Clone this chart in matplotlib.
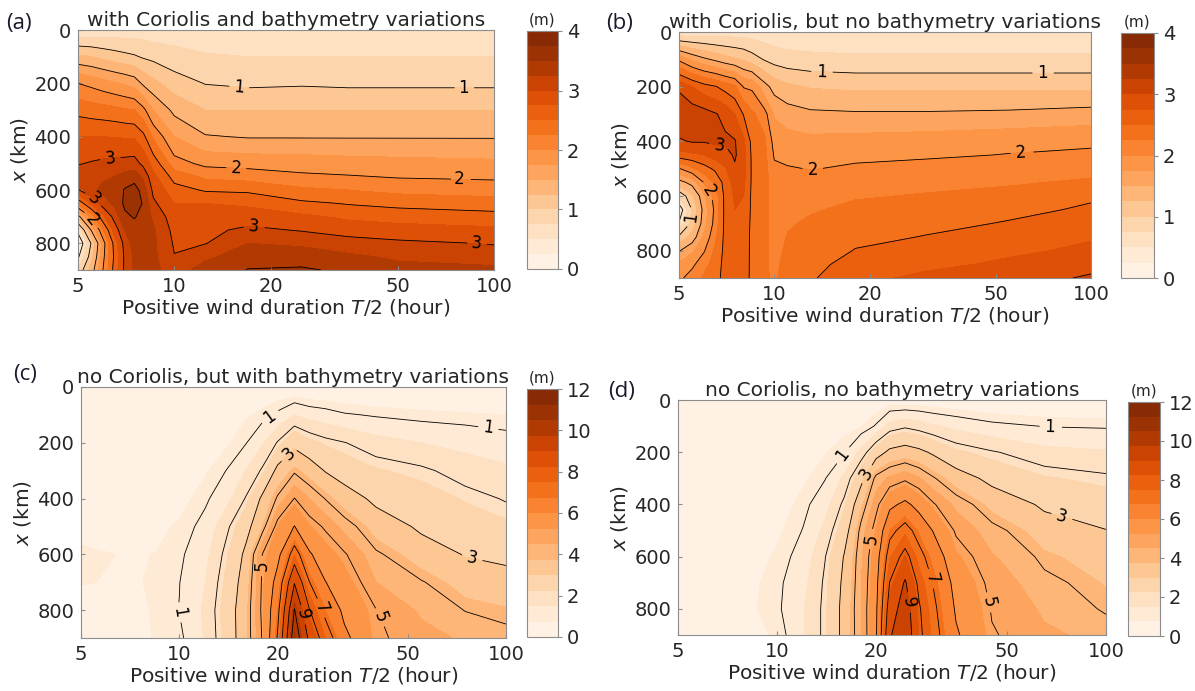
import numpy as np
import matplotlib
matplotlib.use('Agg')
import matplotlib.pyplot as plt
from matplotlib.ticker import FixedLocator, FixedFormatter, NullLocator

plt.rcParams['font.family'] = 'DejaVu Sans'
plt.rcParams['mathtext.fontset'] = 'dejavusans'

# ---- data: surge height (m), one list per wind duration T/2 (hour), values along x (km)

# (a) with Coriolis and bathymetry variations
t_a = [5, 5.5, 6, 6.5, 7, 7.5, 8, 8.6, 10, 12.5, 17, 25, 35, 50, 100]
x_a = [0, 100, 200, 300, 400, 500, 550, 600, 650, 700, 750, 800, 850, 900]
h_a = [
    [0.55, 1.30, 2.00, 2.42, 2.75, 2.98, 3.15, 2.98, 2.30, 1.40, 0.60, 0.20, 0.45, 0.80],
    [0.57, 1.25, 1.93, 2.38, 2.75, 3.02, 3.18, 3.20, 2.80, 2.10, 1.52, 1.02, 1.15, 1.35],
    [0.58, 1.18, 1.85, 2.35, 2.75, 3.05, 3.22, 3.30, 3.15, 2.70, 2.25, 1.90, 1.95, 2.02],
    [0.60, 1.12, 1.78, 2.32, 2.74, 3.07, 3.25, 3.35, 3.30, 3.10, 2.85, 2.60, 2.55, 2.60],
    [0.61, 1.07, 1.72, 2.28, 2.73, 3.08, 3.35, 3.52, 3.55, 3.45, 3.25, 3.10, 3.05, 3.05],
    [0.62, 1.03, 1.65, 2.25, 2.72, 3.10, 3.40, 3.60, 3.62, 3.52, 3.40, 3.35, 3.30, 3.30],
    [0.62, 0.97, 1.45, 2.07, 2.57, 2.93, 3.20, 3.40, 3.48, 3.42, 3.35, 3.30, 3.30, 3.30],
    [0.60, 0.93, 1.32, 1.75, 2.20, 2.65, 2.82, 2.93, 3.05, 3.20, 3.28, 3.30, 3.30, 3.30],
    [0.60, 0.85, 1.12, 1.43, 1.75, 2.10, 2.40, 2.60, 2.75, 2.85, 2.92, 2.97, 3.01, 3.15],
    [0.55, 0.78, 0.99, 1.25, 1.52, 1.93, 2.20, 2.47, 2.75, 2.88, 2.95, 2.99, 3.20, 3.35],
    [0.55, 0.75, 0.95, 1.25, 1.48, 1.90, 2.15, 2.45, 2.70, 2.88, 3.05, 3.25, 3.40, 3.51],
    [0.55, 0.75, 0.97, 1.25, 1.48, 1.88, 2.05, 2.30, 2.55, 2.80, 2.98, 3.20, 3.40, 3.53],
    [0.55, 0.75, 0.95, 1.25, 1.48, 1.85, 2.02, 2.25, 2.48, 2.70, 2.90, 3.10, 3.30, 3.45],
    [0.55, 0.75, 0.95, 1.25, 1.48, 1.83, 1.98, 2.18, 2.42, 2.65, 2.85, 3.05, 3.20, 3.35],
    [0.55, 0.75, 0.95, 1.25, 1.48, 1.80, 1.95, 2.15, 2.35, 2.60, 2.80, 2.98, 3.15, 3.30],
]

# (b) with Coriolis, but no bathymetry variations
t_b = [5, 5.5, 6, 6.5, 7, 7.5, 8, 8.5, 9.3, 10, 11, 13, 18, 30, 55, 100]
x_b = [0, 100, 200, 300, 400, 450, 500, 550, 600, 650, 700, 750, 800, 850, 900]
h_b = [
    [0.55, 1.95, 2.95, 3.20, 2.97, 2.65, 1.98, 1.40, 0.80, 0.30, 0.52, 1.05, 1.48, 1.80, 1.95],
    [0.58, 1.70, 2.75, 3.15, 3.02, 2.70, 2.20, 1.60, 1.20, 1.02, 1.10, 1.35, 1.70, 1.95, 2.10],
    [0.60, 1.55, 2.60, 3.10, 3.02, 2.75, 2.40, 2.02, 1.70, 1.60, 1.65, 1.80, 1.98, 2.15, 2.30],
    [0.60, 1.45, 2.52, 3.02, 3.05, 2.85, 2.55, 2.30, 2.12, 2.07, 2.10, 2.20, 2.30, 2.38, 2.42],
    [0.62, 1.35, 2.40, 2.93, 3.04, 2.92, 2.72, 2.60, 2.58, 2.58, 2.58, 2.58, 2.58, 2.58, 2.58],
    [0.63, 1.28, 2.30, 2.75, 3.02, 3.03, 2.97, 2.85, 2.78, 2.75, 2.72, 2.70, 2.68, 2.67, 2.66],
    [0.63, 1.22, 1.98, 2.48, 2.80, 2.85, 2.85, 2.80, 2.75, 2.73, 2.70, 2.68, 2.67, 2.66, 2.65],
    [0.62, 1.12, 1.95, 2.30, 2.42, 2.45, 2.46, 2.46, 2.45, 2.44, 2.43, 2.42, 2.42, 2.42, 2.42],
    [0.60, 0.98, 1.60, 2.10, 2.30, 2.33, 2.35, 2.35, 2.34, 2.33, 2.32, 2.31, 2.30, 2.30, 2.30],
    [0.58, 0.90, 1.40, 1.72, 1.90, 1.97, 2.05, 2.10, 2.13, 2.14, 2.15, 2.16, 2.17, 2.18, 2.20],
    [0.57, 0.85, 1.30, 1.62, 1.85, 1.93, 2.02, 2.10, 2.16, 2.20, 2.23, 2.26, 2.30, 2.35, 2.40],
    [0.56, 0.82, 1.23, 1.55, 1.82, 1.92, 1.99, 2.10, 2.17, 2.23, 2.28, 2.33, 2.38, 2.43, 2.47],
    [0.55, 0.80, 1.20, 1.53, 1.84, 1.94, 2.04, 2.15, 2.23, 2.30, 2.38, 2.45, 2.51, 2.60, 2.70],
    [0.55, 0.80, 1.20, 1.53, 1.87, 1.97, 2.07, 2.18, 2.27, 2.36, 2.44, 2.51, 2.60, 2.70, 2.80],
    [0.55, 0.80, 1.20, 1.55, 1.92, 2.01, 2.10, 2.22, 2.33, 2.43, 2.52, 2.60, 2.70, 2.80, 2.92],
    [0.55, 0.80, 1.20, 1.60, 1.96, 2.04, 2.14, 2.30, 2.45, 2.55, 2.63, 2.72, 2.82, 2.93, 3.03],
]

# (c) no Coriolis, but with bathymetry variations
t_c = [5, 7, 8.5, 10, 12, 14, 16, 18, 20, 22.5, 25, 28, 32, 40, 55, 75, 100]
x_c = [0, 100, 200, 300, 400, 500, 600, 700, 800, 900]
h_c = [
    [0.20, 0.25, 0.30, 0.35, 0.45, 0.60, 0.82, 0.77, 0.60, 0.50],
    [0.20, 0.25, 0.30, 0.38, 0.48, 0.60, 0.72, 0.70, 0.62, 0.60],
    [0.20, 0.26, 0.32, 0.40, 0.52, 0.66, 0.76, 0.80, 0.80, 0.78],
    [0.22, 0.30, 0.38, 0.50, 0.62, 0.80, 0.92, 0.99, 1.01, 0.90],
    [0.25, 0.35, 0.50, 0.70, 0.92, 1.15, 1.35, 1.50, 1.60, 1.55],
    [0.30, 0.45, 0.70, 1.02, 1.35, 1.90, 2.20, 2.40, 2.55, 2.50],
    [0.35, 0.70, 0.98, 1.52, 2.05, 2.70, 3.20, 3.45, 3.60, 3.60],
    [0.40, 0.85, 1.45, 2.10, 3.20, 3.75, 5.05, 5.15, 5.20, 5.10],
    [0.40, 1.10, 2.05, 3.25, 4.10, 5.30, 5.75, 6.35, 6.75, 7.10],
    [0.35, 1.50, 2.75, 3.90, 5.02, 6.02, 7.45, 8.95, 10.05, 10.60],
    [0.30, 1.30, 2.40, 3.45, 4.50, 5.30, 6.10, 7.02, 8.05, 8.80],
    [0.30, 1.20, 2.17, 2.95, 3.97, 4.90, 5.50, 6.02, 6.75, 7.50],
    [0.28, 1.05, 2.02, 2.60, 3.40, 4.30, 5.07, 5.50, 5.80, 6.20],
    [0.25, 0.95, 1.70, 2.30, 2.80, 3.45, 4.10, 4.50, 5.02, 5.10],
    [0.22, 0.85, 1.50, 2.10, 2.50, 2.85, 3.40, 4.05, 4.40, 4.70],
    [0.20, 0.80, 1.35, 1.75, 2.20, 2.55, 2.95, 3.45, 3.98, 4.40],
    [0.20, 0.75, 1.20, 1.60, 1.95, 2.35, 2.80, 3.30, 3.80, 4.20],
]

# (d) no Coriolis, no bathymetry variations
t_d = [5, 8, 10, 12, 14, 16, 18, 20, 22, 24.5, 27, 30, 35, 45, 65, 100]
x_d = [0, 100, 200, 300, 400, 500, 600, 700, 800, 900]
h_d = [
    [0.10, 0.12, 0.15, 0.20, 0.25, 0.30, 0.35, 0.38, 0.40, 0.40],
    [0.15, 0.20, 0.25, 0.30, 0.40, 0.50, 0.58, 0.63, 0.66, 0.67],
    [0.20, 0.25, 0.32, 0.42, 0.55, 0.68, 0.80, 0.90, 0.92, 0.78],
    [0.25, 0.35, 0.50, 0.68, 0.88, 1.02, 1.20, 1.35, 1.45, 1.45],
    [0.30, 0.48, 0.72, 0.98, 1.30, 1.65, 1.98, 2.10, 2.15, 2.15],
    [0.35, 0.60, 0.98, 1.60, 2.15, 2.60, 3.05, 3.20, 3.30, 3.30],
    [0.40, 0.72, 1.65, 2.75, 3.60, 4.20, 4.40, 4.45, 4.50, 4.45],
    [0.45, 1.05, 2.60, 4.20, 4.80, 5.30, 5.60, 5.75, 5.85, 5.90],
    [0.48, 1.70, 3.20, 4.60, 5.80, 6.75, 7.45, 8.02, 8.50, 8.90],
    [0.45, 1.90, 3.40, 4.88, 6.20, 7.35, 8.30, 9.10, 9.50, 9.70],
    [0.45, 1.75, 3.20, 4.55, 5.70, 6.65, 7.30, 7.80, 8.10, 8.20],
    [0.42, 1.55, 2.85, 4.05, 5.05, 5.92, 6.50, 6.92, 7.15, 7.30],
    [0.40, 1.35, 2.35, 3.40, 4.35, 4.90, 5.35, 5.70, 5.90, 6.10],
    [0.35, 1.12, 2.05, 2.75, 3.55, 4.20, 4.55, 4.80, 4.95, 5.05],
    [0.30, 0.98, 1.65, 2.30, 2.85, 3.40, 3.85, 4.15, 4.40, 4.60],
    [0.25, 0.95, 1.55, 2.10, 2.55, 3.02, 3.40, 3.70, 3.92, 4.30],
]

titles = ['with Coriolis and bathymetry variations',
          'with Coriolis, but no bathymetry variations',
          'no Coriolis, but with bathymetry variations',
          'no Coriolis, no bathymetry variations']
tags = ['(a)', '(b)', '(c)', '(d)']

# ---- layout (pixels: left, top, right, bottom)
W, H = 1195, 691
fig = plt.figure(figsize=(W / 100, H / 100), dpi=100)


def rect(l, t, r, b):
    return [l / W, 1 - b / H, (r - l) / W, (b - t) / H]


ax_px = [(78, 30, 494, 270), (679, 32, 1091, 278), (81, 387, 506, 638), (678, 400, 1106, 635)]
cb_px = [(527, 31, 558, 269), (1121, 33, 1154, 278), (527, 389, 558, 637), (1128, 402, 1160, 636)]
tag_px = [(6, 24), (606, 24), (13, 374), (608, 391)]

# where the inline contour labels sit (T/2, x)
label_pos = [
    [(15.9, 217), (80, 218), (15.6, 516), (78, 567), (6.3, 479), (5.7, 623), (5.6, 705), (17.7, 737), (88, 797)],
    [(14.1, 140), (70, 144), (13.2, 506), (60, 440), (6.7, 410), (5.9, 597), (5.3, 676)],
    [(18.9, 105), (88, 150), (9.9, 810), (21.6, 239), (78, 628), (17.9, 642), (39.6, 833), (28, 786), (24.2, 815)],
    [(15.9, 213), (67.5, 101), (19.4, 296), (72.3, 466), (19.2, 532), (41.8, 781), (29.3, 685), (25.6, 774)],
]

data = [(t_a, x_a, h_a), (t_b, x_b, h_b), (t_c, x_c, h_c), (t_d, x_d, h_d)]
gray = '#8c8c8c'
txt = '#262626'

for i, (t, x, h) in enumerate(data):
    top = 4 if i < 2 else 12
    z = np.array(h).T
    ax = fig.add_axes(rect(*ax_px[i]))
    cax = fig.add_axes(rect(*cb_px[i]))

    cf = ax.contourf(t, x, z, levels=np.linspace(0, top, 17), cmap='Oranges')
    if i < 2:
        plain, labs = [0.5, 1.5, 2.5, 3.5], [1, 2, 3]
    else:
        plain, labs = [2, 4, 6, 8, 10], [1, 3, 5, 7, 9]
    ax.contour(t, x, z, levels=plain, colors='k', linewidths=0.6)
    cs = ax.contour(t, x, z, levels=labs, colors='k', linewidths=0.6)

    ax.set_xscale('log')
    ax.set_xlim(5, 100)
    ax.set_ylim(900, 0)
    ax.xaxis.set_major_locator(FixedLocator([5, 10, 20, 50, 100]))
    ax.xaxis.set_major_formatter(FixedFormatter(['5', '10', '20', '50', '100']))
    ax.xaxis.set_minor_locator(NullLocator())
    ax.set_yticks([0, 200, 400, 600, 800])
    ax.tick_params(direction='in', length=3, color=gray, labelsize=14, labelcolor=txt, pad=5)
    for s in ax.spines.values():
        s.set_color(gray)
        s.set_linewidth(0.8)

    ax.clabel(cs, inline=True, fontsize=12, fmt='%g', manual=label_pos[i])

    ax.set_xlabel('Positive wind duration $T$/2 (hour)', fontsize=14.5, color=txt, labelpad=1)
    ax.set_ylabel('$x$ (km)', fontsize=14.5, color=txt, labelpad=3)
    ax.set_title(titles[i], fontsize=14.5, color=txt, pad=2)

    cb = fig.colorbar(cf, cax=cax)
    cb.set_ticks(np.arange(0, top + 1, 1 if i < 2 else 2))
    cb.outline.set_edgecolor(gray)
    cb.outline.set_linewidth(0.8)
    cax.tick_params(labelsize=14, labelcolor=txt, length=3, color=gray)
    cax.set_title('(m)', fontsize=11, color=txt, pad=5)

    fig.text(tag_px[i][0] / W, 1 - tag_px[i][1] / H, tags[i], fontsize=16,
             family=['Open Sans', 'DejaVu Sans'], color='#1a1a2e', va='center', ha='left')

fig.savefig('out.png', dpi=100)
